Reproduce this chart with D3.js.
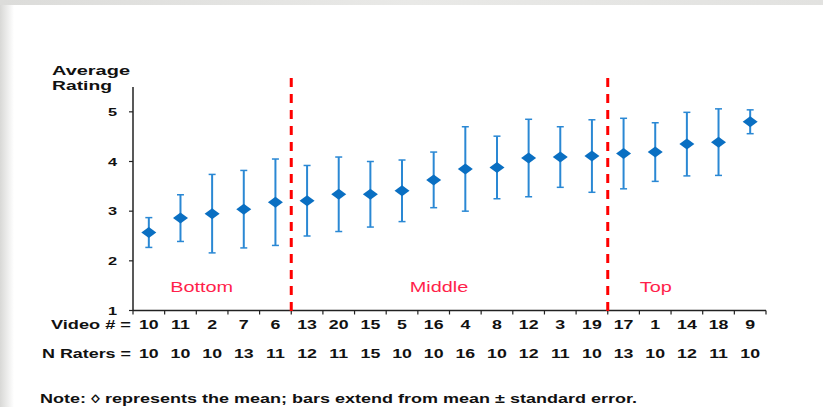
<!DOCTYPE html>
<html>
<head>
<meta charset="utf-8">
<script src="https://cdn.jsdelivr.net/npm/d3@7/dist/d3.min.js"></script>
<style>
  html, body { margin: 0; padding: 0; background: #fff; }
  svg { display: block; }
  text { font-family: "Liberation Sans", Arial, sans-serif; }
</style>
</head>
<body>
<svg id="chart" width="823" height="407"></svg>
<script>
// Videos ordered by mean rating
const videos  = ["10","11","2","7","6","13","20","15","5","16","4","8","12","3","19","17","1","14","18","9"];
const nRaters = [10,10,10,13,11,12,11,15,10,10,16,10,12,11,10,13,10,12,11,10];
const means   = [2.57,2.86,2.95,3.04,3.18,3.21,3.34,3.34,3.41,3.63,3.85,3.88,4.07,4.09,4.11,4.16,4.19,4.35,4.39,4.80];
const stdErr  = [0.30,0.47,0.79,0.78,0.87,0.71,0.75,0.66,0.62,0.56,0.85,0.63,0.78,0.61,0.73,0.71,0.59,0.64,0.67,0.24];
const yTicks  = [1,2,3,4,5];
// Rating groups: label and number of videos in each
const groups  = ["Bottom","Middle","Top"];
const groupSizes = [5,10,5];

const W = 823, H = 407;
const SX = 1.42; // horizontal stretch applied to all text
const svg = d3.select("#chart");

// page frame shading
const defs = svg.append("defs");
const gl = defs.append("linearGradient").attr("id","leftShade").attr("x1","0").attr("x2","1");
gl.append("stop").attr("offset","0").attr("stop-color","#d8d8d6");
gl.append("stop").attr("offset","1").attr("stop-color","#ffffff");
const gt = defs.append("linearGradient").attr("id","topShade").attr("x1","0").attr("x2","1");
gt.append("stop").attr("offset","0").attr("stop-color","#dcdcda");
gt.append("stop").attr("offset","0.5").attr("stop-color","#e9e9e7");
gt.append("stop").attr("offset","1").attr("stop-color","#e2e2e0");
svg.append("rect").attr("width",W).attr("height",H).attr("fill","#fff");
svg.append("rect").attr("x",0).attr("y",0).attr("width",14).attr("height",H).attr("fill","url(#leftShade)");
svg.append("rect").attr("x",0).attr("y",0).attr("width",W).attr("height",5).attr("fill","url(#topShade)");

const plotL = 133, plotR = 766, plotT = 87, plotB = 310.5;

const x = d3.scaleBand().domain(d3.range(videos.length)).range([plotL, plotR]).padding(0);
const xi = d3.scaleLinear().domain([0, videos.length]).range([plotL, plotR]);
const y = d3.scaleLinear().domain([1, 5.5]).range([plotB, plotT]);

function label(g, txt, px, py, opts = {}) {
  const t = g.append("text")
    .attr("transform", `translate(${px},${py}) scale(${SX},1)`)
    .attr("text-anchor", opts.anchor || "start")
    .attr("font-size", opts.size || 12)
    .attr("font-weight", opts.weight || "bold")
    .attr("fill", opts.fill || "#111")
    .text(txt);
  if (opts.width) t.attr("textLength", opts.width / SX).attr("lengthAdjust", "spacingAndGlyphs");
  return t;
}

// y axis
const yAxis = svg.append("g");
yAxis.append("line").attr("x1",plotL).attr("x2",plotL).attr("y1",plotT).attr("y2",plotB)
  .attr("stroke","#222").attr("stroke-width",1.5);
yTicks.forEach(t => {
  yAxis.append("line").attr("x1",plotL-4).attr("x2",plotL).attr("y1",y(t)).attr("y2",y(t))
    .attr("stroke","#222").attr("stroke-width",1.2);
  label(yAxis, t, plotL-16, y(t)+4, {anchor:"end", size:11.5});
});
label(svg, "Average", 52, 75, {size:13, width:78});
label(svg, "Rating", 52, 90, {size:13, width:60});

// x axis with ticks at band edges
const xAxis = svg.append("g");
xAxis.append("line").attr("x1",plotL).attr("x2",plotR).attr("y1",plotB).attr("y2",plotB)
  .attr("stroke","#222").attr("stroke-width",1.5);
d3.range(videos.length + 1).forEach(i => {
  xAxis.append("line").attr("x1",xi(i)).attr("x2",xi(i)).attr("y1",plotB).attr("y2",plotB+4)
    .attr("stroke","#222").attr("stroke-width",1.2);
});
const cx = i => x(i) + x.bandwidth()/2;
videos.forEach((v,i) => label(xAxis, v, cx(i), 329, {anchor:"middle", size:12.5}));
nRaters.forEach((n,i) => label(xAxis, n, cx(i), 358, {anchor:"middle", size:12.5}));
label(svg, "Video # =", 131, 329, {anchor:"end", size:12.5, width:80});
label(svg, "N Raters =", 131, 358, {anchor:"end", size:12.5, width:89});

// group separators
const bounds = d3.cumsum(groupSizes);
bounds.slice(0, -1).forEach(b => {
  svg.append("line").attr("x1",xi(b)).attr("x2",xi(b)).attr("y1",78).attr("y2",plotB+2)
    .attr("stroke","#ff0000").attr("stroke-width",3).attr("stroke-dasharray","9,7");
});
// group labels
const groupLabelAt = [2.17, 9.67, 16.52];
groups.forEach((gname,i) => label(svg, gname, xi(groupLabelAt[i]), 292,
  {anchor:"middle", size:14, weight:"normal", fill:"#ff1f4b"}));

// error bars
const eb = svg.append("g");
means.forEach((m,i) => {
  const c = cx(i), hi = y(m + stdErr[i]), lo = y(m - stdErr[i]);
  eb.append("line").attr("x1",c).attr("x2",c).attr("y1",hi).attr("y2",lo)
    .attr("stroke","#2a88d4").attr("stroke-width",2);
  [hi, lo].forEach(yy => eb.append("line").attr("x1",c-3.5).attr("x2",c+3.5).attr("y1",yy).attr("y2",yy)
    .attr("stroke","#2a88d4").attr("stroke-width",1.5));
});

// mean markers (diamonds)
const dw = 7.5, dh = 5.5;
svg.append("g").selectAll("path").data(means).join("path")
  .attr("d", (m,i) => {
    const p = d3.path(), c = cx(i), yy = y(m);
    p.moveTo(c, yy-dh); p.lineTo(c+dw, yy); p.lineTo(c, yy+dh); p.lineTo(c-dw, yy); p.closePath();
    return p.toString();
  })
  .attr("fill","#0a6fc2");

// footnote
label(svg, "Note: \u25CA represents the mean; bars extend from mean \u00B1 standard error.", 40, 403,
  {size:12, width:597});
</script>
</body>
</html>
